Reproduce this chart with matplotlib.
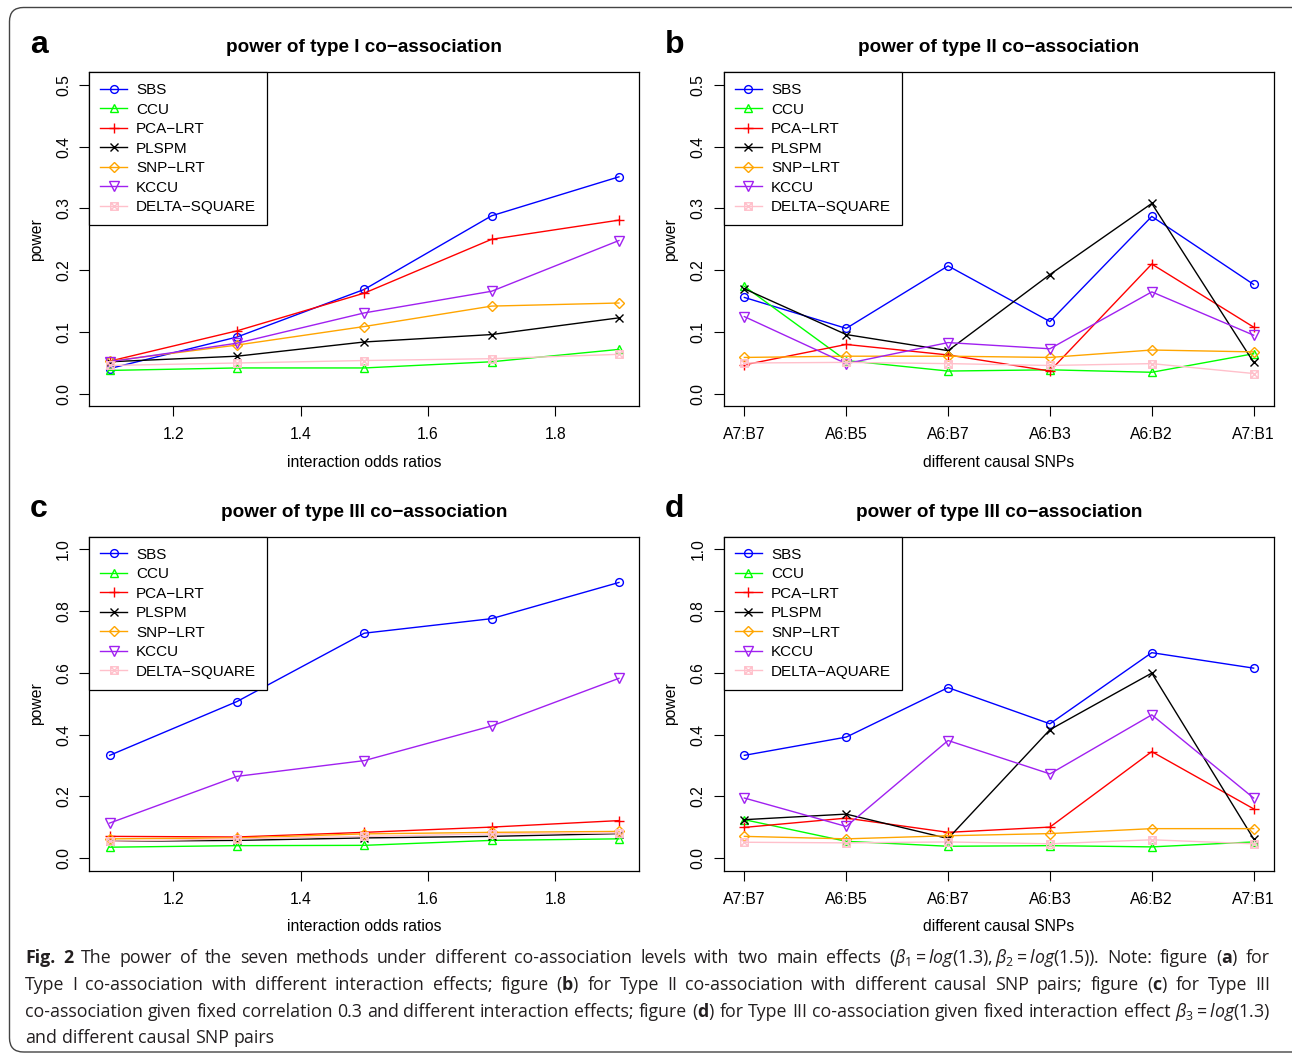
import matplotlib
matplotlib.use("Agg")
import matplotlib.pyplot as plt
from matplotlib.path import Path
from matplotlib.patches import FancyBboxPatch
from matplotlib.transforms import IdentityTransform

# ---------------- data ----------------
methods = ["SBS", "CCU", "PCA\u2212LRT", "PLSPM", "SNP\u2212LRT", "KCCU", "DELTA\u2212SQUARE"]
methods_d = ["SBS", "CCU", "PCA\u2212LRT", "PLSPM", "SNP\u2212LRT", "KCCU", "DELTA\u2212AQUARE"]
colors = ["#0000FF", "#00FF00", "#FF0000", "#000000", "#FFA500", "#A020F0", "#FFC0CB"]

odds_ratios = [1.1, 1.3, 1.5, 1.7, 1.9]
odds_ticks = [1.2, 1.4, 1.6, 1.8]
snp_pairs = ["A7:B7", "A6:B5", "A6:B7", "A6:B3", "A6:B2", "A7:B1"]

# rows follow `methods` order
power_a = [
    [0.041, 0.092, 0.169, 0.288, 0.351],
    [0.038, 0.042, 0.042, 0.052, 0.072],
    [0.053, 0.102, 0.163, 0.250, 0.281],
    [0.052, 0.061, 0.084, 0.096, 0.123],
    [0.053, 0.079, 0.109, 0.142, 0.147],
    [0.052, 0.082, 0.131, 0.166, 0.248],
    [0.046, 0.050, 0.054, 0.057, 0.064],
]
power_b = [
    [0.156, 0.106, 0.207, 0.117, 0.287, 0.177],
    [0.174, 0.054, 0.037, 0.039, 0.035, 0.065],
    [0.047, 0.080, 0.063, 0.037, 0.210, 0.108],
    [0.170, 0.096, 0.070, 0.193, 0.308, 0.051],
    [0.059, 0.061, 0.061, 0.059, 0.071, 0.068],
    [0.125, 0.049, 0.083, 0.073, 0.165, 0.095],
    [0.050, 0.051, 0.049, 0.046, 0.049, 0.033],
]
power_c = [
    [0.333, 0.507, 0.728, 0.775, 0.892],
    [0.036, 0.041, 0.042, 0.058, 0.063],
    [0.071, 0.069, 0.084, 0.101, 0.122],
    [0.055, 0.058, 0.066, 0.071, 0.080],
    [0.063, 0.066, 0.079, 0.084, 0.087],
    [0.114, 0.265, 0.316, 0.428, 0.582],
    [0.055, 0.063, 0.071, 0.079, 0.082],
]
power_d = [
    [0.333, 0.392, 0.552, 0.435, 0.665, 0.615],
    [0.125, 0.055, 0.039, 0.041, 0.037, 0.053],
    [0.100, 0.130, 0.084, 0.101, 0.345, 0.160],
    [0.125, 0.143, 0.064, 0.416, 0.599, 0.063],
    [0.071, 0.063, 0.073, 0.080, 0.096, 0.096],
    [0.195, 0.103, 0.381, 0.273, 0.464, 0.195],
    [0.052, 0.050, 0.053, 0.047, 0.060, 0.047],
]

titles = ["power of type I co\u2212association", "power of type II co\u2212association",
          "power of type III co\u2212association", "power of type III co\u2212association"]

# ---------------- style ----------------
FONT = ["Liberation Sans", "DejaVu Sans"]
CAPFONT = "Open Sans"
plt.rcParams["font.family"] = FONT
plt.rcParams["mathtext.fontset"] = "custom"
plt.rcParams["mathtext.rm"] = CAPFONT
plt.rcParams["mathtext.it"] = CAPFONT + ":italic"
plt.rcParams["mathtext.bf"] = CAPFONT + ":bold"

boxx = Path([(-1, -1), (1, -1), (1, 1), (-1, 1), (-1, -1), (-1, -1), (1, 1), (-1, 1), (1, -1)],
            [Path.MOVETO, Path.LINETO, Path.LINETO, Path.LINETO, Path.CLOSEPOLY,
             Path.MOVETO, Path.LINETO, Path.MOVETO, Path.LINETO])
markers = ["o", "^", "+", "x", "D", "v", boxx]
msizes = [5.6, 6.4, 7.5, 5.6, 5.6, 6.8, 5.4]

W, H = 1292, 1054
fig = plt.figure(figsize=(W / 100, H / 100), dpi=100)

def fx(px):
    return px / W

def fy(py):
    return 1 - py / H

ax_w, ax_h = 550, 334
panels = [
    (89.3, 72.3, "a", power_a, "num", methods, (-0.02, 0.52), [0, 0.1, 0.2, 0.3, 0.4, 0.5]),
    (724.0, 72.3, "b", power_b, "cat", methods, (-0.02, 0.52), [0, 0.1, 0.2, 0.3, 0.4, 0.5]),
    (89.3, 536.7, "c", power_c, "num", methods, (-0.04, 1.04), [0, 0.2, 0.4, 0.6, 0.8, 1.0]),
    (724.0, 536.7, "d", power_d, "cat", methods_d, (-0.04, 1.04), [0, 0.2, 0.4, 0.6, 0.8, 1.0]),
]

for i, (lx, ty, letter, data, kind, labels, ylim, yticks) in enumerate(panels):
    ax = fig.add_axes([fx(lx), fy(ty + ax_h), fx(ax_w), ax_h / H])
    if kind == "num":
        xs = odds_ratios
    else:
        xs = list(range(1, len(snp_pairs) + 1))
    handles = []
    for m, vals in enumerate(data):
        ln, = ax.plot(xs, vals, color=colors[m], lw=1.0, marker=markers[m],
                      ms=msizes[m], mfc="none", mec=colors[m], mew=1.0, label=labels[m])
        handles.append(ln)
    if kind == "num":
        ax.set_xlim(1.068, 1.932)
        ax.set_xticks(odds_ticks)
        ax.set_xticklabels([f"{v:.1f}" for v in odds_ticks])
        ax.set_xlabel("interaction odds ratios", fontsize=11.3)
    else:
        ax.set_xlim(0.8, 6.2)
        ax.set_xticks(xs)
        ax.set_xticklabels(snp_pairs)
        ax.set_xlabel("different causal SNPs", fontsize=11.3)
    ax.set_ylim(*ylim)
    ax.set_yticks(yticks)
    ax.set_yticklabels([f"{v:.1f}" for v in yticks])
    ax.set_ylabel("power", fontsize=11.3)
    ax.xaxis.set_label_coords(0.5, -0.145)
    ax.yaxis.set_label_coords(-0.083, 0.5)
    ax.tick_params(direction="out", length=7.2, width=0.8, labelsize=11.3, pad=8, colors="black")
    ax.tick_params(axis="y", pad=6)
    for t in ax.get_yticklabels():
        t.set_rotation(90)
        t.set_va("center")
        t.set_ha("right")
    for s in ax.spines.values():
        s.set_linewidth(0.9)
        s.set_color("black")
    ax.set_title(titles[i], fontsize=13.6, fontweight="bold", pad=14.4)
    leg = ax.legend(handles=handles, loc="upper left", bbox_to_anchor=(0, 1), borderaxespad=0,
                    frameon=True, fancybox=False, edgecolor="black", framealpha=1,
                    fontsize=11, handlelength=1.75, handletextpad=0.6, labelspacing=0.36,
                    borderpad=0.72)
    leg.get_frame().set_linewidth(0.9)
    fig.text(fx(lx - 59.3), fy(ty - 19.3), letter, fontsize=23, fontweight="bold",
             ha="left", va="baseline")

# ---------------- frame ----------------
frame = FancyBboxPatch((9.5, 2), 1300, 1054 - 7.5 - 2, boxstyle="round,pad=0,rounding_size=14",
                       transform=IdentityTransform(), fill=False, ec="#444444", lw=1.0)
fig.add_artist(frame)

# ---------------- caption ----------------
cap_lines = [
    [("Fig.", "bold"), ("2", "bold"), ("The", "normal"), ("power", "normal"), ("of", "normal"),
     ("the", "normal"), ("seven", "normal"), ("methods", "normal"), ("under", "normal"),
     ("different", "normal"), ("co-association", "normal"), ("levels", "normal"),
     ("with", "normal"), ("two", "normal"), ("main", "normal"), ("effects", "normal"),
     (r"($\beta_1 = log(1.3), \beta_2 = log(1.5)$).", "normal"), ("Note:", "normal"),
     ("figure", "normal"), (r"($\mathbf{a}$)", "normal"), ("for", "normal")],
    [("Type", "normal"), ("I", "normal"), ("co-association", "normal"), ("with", "normal"),
     ("different", "normal"), ("interaction", "normal"), ("effects;", "normal"),
     ("figure", "normal"), (r"($\mathbf{b}$)", "normal"), ("for", "normal"), ("Type", "normal"),
     ("II", "normal"), ("co-association", "normal"), ("with", "normal"), ("different", "normal"),
     ("causal", "normal"), ("SNP", "normal"), ("pairs;", "normal"), ("figure", "normal"),
     (r"($\mathbf{c}$)", "normal"), ("for", "normal"), ("Type", "normal"), ("III", "normal")],
    [("co-association", "normal"), ("given", "normal"), ("fixed", "normal"),
     ("correlation", "normal"), ("0.3", "normal"), ("and", "normal"), ("different", "normal"),
     ("interaction", "normal"), ("effects;", "normal"), ("figure", "normal"),
     (r"($\mathbf{d}$)", "normal"), ("for", "normal"), ("Type", "normal"), ("III", "normal"),
     ("co-association", "normal"), ("given", "normal"), ("fixed", "normal"),
     ("interaction", "normal"), ("effect", "normal"), (r"$\beta_3 = log(1.3)$", "normal")],
    [("and", "normal"), ("different", "normal"), ("causal", "normal"), ("SNP", "normal"),
     ("pairs", "normal")],
]
cap_x0, cap_x1 = 25.0, 1270.0
cap_base = [963.3, 990.0, 1016.7, 1043.3]

renderer = fig.canvas.get_renderer()
fs0 = 12.0
sp = fig.text(0, 0, "a a", fontsize=fs0, family=CAPFONT)
sp2 = fig.text(0, 0, "aa", fontsize=fs0, family=CAPFONT)
space_w = sp.get_window_extent(renderer).width - sp2.get_window_extent(renderer).width
sp.remove()
sp2.remove()
# font size chosen so that the widest of the justified lines fits naturally
nat_max = 0
for toks in cap_lines[:3]:
    probe = [fig.text(0, 0, s, fontsize=fs0, fontweight=w, family=CAPFONT) for s, w in toks]
    nat = sum(t.get_window_extent(renderer).width for t in probe) + space_w * (len(probe) - 1)
    nat_max = max(nat_max, nat)
    for t in probe:
        t.remove()
cap_fs = fs0 * (cap_x1 - cap_x0) / nat_max * 0.99

for li, toks in enumerate(cap_lines):
    texts = [fig.text(0, fy(cap_base[li]), s, fontsize=cap_fs, fontweight=w, family=CAPFONT,
                      ha="left", va="baseline", color="#231f20") for s, w in toks]
    widths = [t.get_window_extent(renderer).width for t in texts]
    if li < 3:
        gap = (cap_x1 - cap_x0 - sum(widths)) / (len(texts) - 1)
    else:
        gap = space_w * cap_fs / fs0
    x = cap_x0
    for t, wd in zip(texts, widths):
        t.set_x(fx(x))
        x += wd + gap

fig.savefig("out.png", dpi=100)
